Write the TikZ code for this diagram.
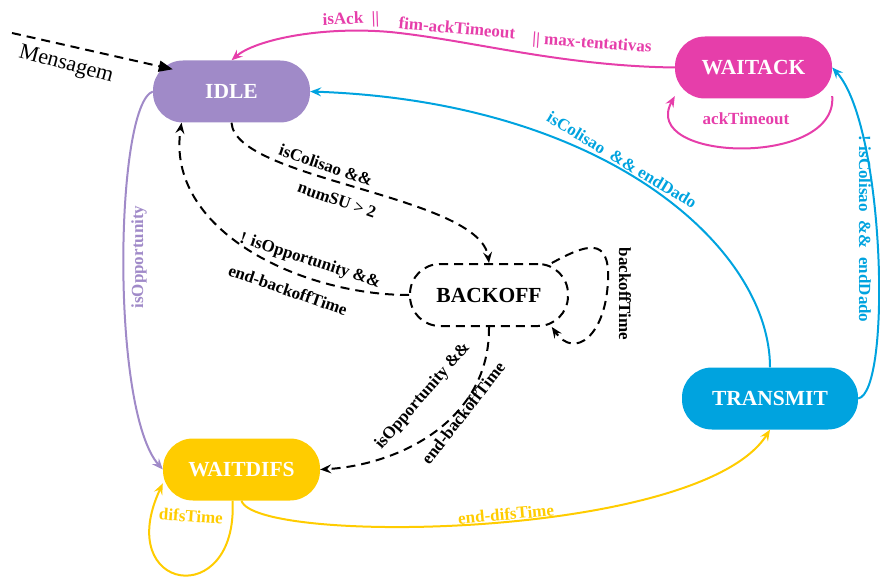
\documentclass[tikz,border=0pt]{standalone}
\usepackage{fontspec}
\setmainfont{Liberation Serif}
\usetikzlibrary{arrows.meta}
\definecolor{idlec}{RGB}{160,138,200}
\definecolor{ackc}{RGB}{230,62,170}
\definecolor{txc}{RGB}{0,163,223}
\definecolor{difc}{RGB}{255,204,0}

\begin{document}
\begin{tikzpicture}[x=1pt,y=-1pt,
  stnode/.style={rectangle, rounded corners=30pt, minimum width=157pt, minimum height=62pt,
    inner sep=0pt, font=\fontsize{21.5}{24}\selectfont\bfseries, text=white},
  lbl/.style={font=\fontsize{17}{19}\selectfont\bfseries, inner sep=1pt},
  conn/.style={line width=2pt, -{Stealth[length=11pt,width=9pt,inset=4pt]}},
  dashconn/.style={conn, dash pattern=on 9pt off 6pt, black},
]
\useasboundingbox (0,0) rectangle (880,577);

% states
\node[stnode, fill=idlec] (IDLE) at (231.5,91.5) {IDLE};
\node[stnode, fill=ackc] (WAITACK) at (753.5,67.5) {WAITACK};
\node[stnode, fill=white, draw=black, line width=2pt, dash pattern=on 9pt off 6pt,
  text=black, minimum width=158pt] (BACKOFF) at (489,295) {BACKOFF};
\node[stnode, fill=txc, minimum width=176pt] (TRANSMIT) at (770,398.5) {TRANSMIT};
\node[stnode, fill=difc] (WAITDIFS) at (241.5,469.5) {WAITDIFS};

% incoming message
\coordinate (msg) at (12,33);
\draw[line width=2pt, dash pattern=on 9pt off 6pt, -{Triangle[length=14pt,width=11pt]}]
  (msg) -- ([xshift=20pt,yshift=-9pt]IDLE.north west);
\node[font=\fontsize{22}{25}\selectfont, rotate=-15] (msglbl) at (66,65) {Mensagem};

% WAITACK -> IDLE
\draw[conn, ackc] (WAITACK.west) .. controls (560,66) and (470,40) .. (390,32)
  .. controls (320,26) and (255,40) .. (IDLE.north);
\node[lbl, text=ackc, rotate=2] (l1a) at (351,20) {isAck\ \ \textbar\textbar};
\node[lbl, text=ackc, rotate=-5] (l1b) at (457,28) {fim-ackTimeout};
\node[lbl, text=ackc, rotate=-4] (l1c) at (592,44) {\textbar\textbar\ max-tentativas};

% WAITACK self loop
\draw[conn, ackc] (WAITACK.-20) .. controls (838,168) and (638,162) .. (WAITACK.200);
\node[lbl, text=ackc] (l2) at (746,119) {ackTimeout};

% TRANSMIT -> IDLE
\draw[conn, txc] (TRANSMIT.north) .. controls (770,250) and (610,102) .. (IDLE.east);
\node[lbl, text=txc, rotate=-31] (l3) at (622,160) {isColisao\ \ \&\& endDado};

% TRANSMIT -> WAITACK
\draw[conn, txc] (TRANSMIT.east) .. controls (892,392) and (885,125) .. (WAITACK.east);
\node[lbl, text=txc, rotate=-90] (l4) at (865,229) {! isColisao\ \ \&\&\ \ endDado};

% IDLE -> WAITDIFS
\draw[conn, idlec] (IDLE.west) .. controls (115,105) and (110,410) .. (WAITDIFS.west);
\node[lbl, text=idlec, rotate=90] (l5) at (139,257) {isOpportunity};

% IDLE -> BACKOFF
\draw[dashconn] (IDLE.south) .. controls (235,180) and (480,195) .. (BACKOFF.north);
\node[lbl, rotate=-19] (l6a) at (326,165) {isColisao \&\&};
\node[lbl, rotate=-19] (l6b) at (337,200) {numSU > 2};

% BACKOFF -> IDLE
\draw[dashconn] (BACKOFF.west) .. controls (300,295) and (165,230) .. (IDLE.212);
\node[lbl, rotate=-18] (l7a) at (310,261) {! isOpportunity \&\&};
\node[lbl, rotate=-19] (l7b) at (288,290) {end-backoffTime};

% BACKOFF self loop
\draw[dashconn] (BACKOFF.27) .. controls (585,245) and (610,235) .. (608,280)
  .. controls (606,335) and (575,360) .. (BACKOFF.-27);
\node[lbl, rotate=-90] (l8) at (625,294) {backoffTime};

% BACKOFF -> WAITDIFS
\draw[dashconn] (BACKOFF.south) .. controls (490,420) and (400,465) .. (WAITDIFS.east);
\node[lbl, rotate=49] (l9a) at (423,396) {isOpportunity \&\&};
\node[lbl, rotate=52] (l9b) at (463,413) {end-backoffTime};

% WAITDIFS self loop
\draw[conn, difc] (WAITDIFS.-106) .. controls (238,612) and (112,592) .. (WAITDIFS.190);
\node[lbl, text=difc, rotate=-4] (l10) at (191,516) {difsTime};

% WAITDIFS -> TRANSMIT
\draw[conn, difc] (WAITDIFS.south) .. controls (255,545) and (700,540) .. (TRANSMIT.south);
\node[lbl, text=difc, rotate=5] (l11) at (506,514) {end-difsTime};

\end{tikzpicture}
\end{document}
